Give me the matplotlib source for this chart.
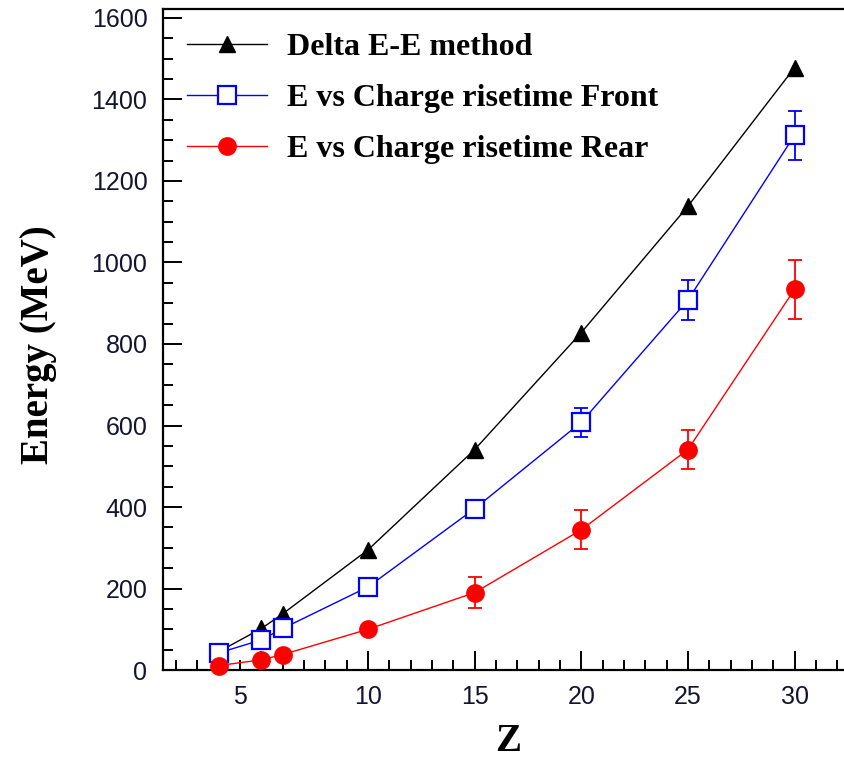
import matplotlib
matplotlib.use("Agg")
import matplotlib.pyplot as plt
from matplotlib.ticker import MultipleLocator
from matplotlib.transforms import ScaledTranslation

# charge number of the detected fragments
z = [3, 5, 6, 10, 15, 20, 25, 30]

# energy thresholds (MeV) from the three identification techniques
e_delta = [45, 102, 138, 295, 541, 828, 1138, 1478]
e_front = [42, 74, 102, 204, 396, 608, 908, 1312]
e_front_err = [0, 0, 0, 0, 18, 35, 50, 60]
e_rear = [11, 25, 38, 100, 190, 344, 541, 934]
e_rear_err = [0, 0, 0, 6, 38, 48, 48, 72]

labels = ["Delta E-E method", "E vs Charge risetime Front", "E vs Charge risetime Rear"]

plt.rcParams["font.family"] = ["Liberation Sans", "DejaVu Sans"]

fig = plt.figure(figsize=(8.44, 7.62), dpi=100)
ax = fig.add_axes([0.1928, 0.1207, 0.8072, 0.8675])

# error bars first, then the lines with markers on top
ax.errorbar(z, e_front, yerr=e_front_err, fmt="none", ecolor="blue",
            elinewidth=1.3, capsize=5, capthick=1.3, clip_on=False, zorder=4)
ax.errorbar(z, e_rear, yerr=e_rear_err, fmt="none", ecolor="red",
            elinewidth=1.3, capsize=5, capthick=1.3, clip_on=False, zorder=4)

ax.plot(z, e_delta, color="black", lw=1.0, marker="^", ms=11,
        mfc="black", mec="black", clip_on=False, zorder=5, label=labels[0])
ax.plot(z, e_front, color="blue", lw=1.0, marker="s", ms=13,
        mfc="white", mec="blue", mew=1.6, clip_on=False, zorder=6, label=labels[1])
ax.plot(z, e_rear, color="red", lw=1.0, marker="o", ms=12.5,
        mfc="red", mec="red", clip_on=False, zorder=7, label=labels[2])

ax.set_xlim(0.37, 32.32)
ax.set_ylim(0, 1622)
ax.xaxis.set_minor_locator(MultipleLocator(1))
ax.yaxis.set_minor_locator(MultipleLocator(50))
ax.set_xticks([5, 10, 15, 20, 25, 30])
ax.set_yticks(range(0, 1601, 200))

for s in ["left", "bottom", "top"]:
    ax.spines[s].set_linewidth(1.6)
ax.spines["right"].set_visible(False)

ax.tick_params(which="both", direction="in", width=1.4, labelsize=18,
               labelcolor="#141430", top=False, right=False)
ax.tick_params(which="major", length=14, pad=11)
ax.tick_params(which="minor", length=7)

# the "5" label sits a little left of its tick
lbl = ax.xaxis.get_major_ticks()[0].label1
lbl.set_transform(lbl.get_transform() + ScaledTranslation(-0.21, 0, fig.dpi_scale_trans))

serif = {"family": ["Liberation Serif", "DejaVu Serif"], "weight": "bold"}
ax.set_ylabel("Energy (MeV)", fontdict=dict(serif, size=28), va="center")
ax.yaxis.set_label_coords(-0.183, 0.492)
ax.set_xlabel("Z", fontdict=dict(serif, size=28), va="center")
ax.xaxis.set_label_coords(0.507, -0.108)

ax.legend(loc="upper left", bbox_to_anchor=(0.0357, 0.964), frameon=False,
          borderpad=0, borderaxespad=0, handlelength=2.5,
          handletextpad=0.62, labelspacing=0.68,
          prop={"family": ["Liberation Serif", "DejaVu Serif"],
                "weight": "bold", "size": 23})

fig.savefig("out.png", dpi=100)
